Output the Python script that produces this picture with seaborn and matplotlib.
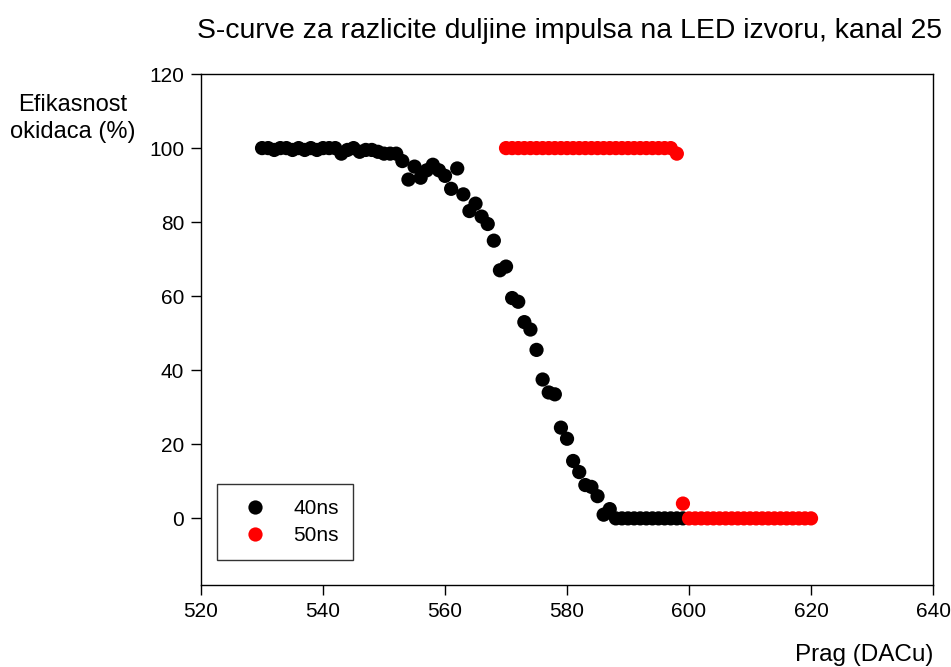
import numpy as np
import pandas as pd
import matplotlib
matplotlib.use("Agg")
import matplotlib.pyplot as plt
import seaborn as sns

# Threshold scan (DAC units) and trigger efficiency (%) for the 40 ns pulse
prag_40 = list(range(530, 600))
eff_40 = [100, 100, 99.5, 100, 100, 99.5, 100, 99.5, 100, 99.5,
          100, 100, 100, 98.5, 99.5, 100, 99, 99.5, 99.5, 99,
          98.5, 98.5, 98.5, 96.5, 91.5, 95, 92, 94, 95.5, 94,
          92.5, 89, 94.5, 87.5, 83, 85, 81.5, 79.5, 75, 67,
          68, 59.5, 58.5, 53, 51, 45.5, 37.5, 34, 33.5, 24.5,
          21.5, 15.5, 12.5, 9, 8.5, 6, 1, 2.5, 0, 0,
          0, 0, 0, 0, 0, 0, 0, 0, 0, 0]

# Same scan for the 50 ns pulse
prag_50 = list(range(570, 621))
eff_50 = [100] * 28 + [98.5, 4] + [0] * 21

series_names = ["40ns", "50ns"]
series_colors = ["black", "red"]

df = pd.concat([
    pd.DataFrame({"Prag": prag_40, "Efikasnost": eff_40, "Impuls": series_names[0]}),
    pd.DataFrame({"Prag": prag_50, "Efikasnost": eff_50, "Impuls": series_names[1]}),
], ignore_index=True)

sns.set_theme(style="ticks")
plt.rcParams["font.family"] = ["Liberation Sans", "DejaVu Sans"]
plt.rcParams["text.color"] = "black"

fig = plt.figure(figsize=(9.51, 6.67), dpi=100)
ax = fig.add_axes([0.2114, 0.1229, 0.7697, 0.7661])

sns.scatterplot(data=df, x="Prag", y="Efikasnost", hue="Impuls",
                palette=dict(zip(series_names, series_colors)),
                s=105, linewidth=0, alpha=1, ax=ax)

ax.set_xlim(520, 640)
ax.set_ylim(-18, 120)
ax.set_xticks(np.arange(520, 641, 20))
ax.set_yticks(np.arange(0, 121, 20))
ax.tick_params(axis="both", direction="out", length=7, width=1,
               labelsize=15, colors="black", pad=5)
for sp in ax.spines.values():
    sp.set_visible(True)
    sp.set_color("black")
    sp.set_linewidth(1)

ax.set_xlabel("")
ax.set_ylabel("")
fig.text(0.981, 0.001, "Prag (DACu)", ha="right", va="bottom", fontsize=17.5,
         color="black")
fig.text(0.076, 0.822, "Efikasnost\nokidaca (%)", ha="center", va="center",
         fontsize=17, linespacing=1.3, color="black")
fig.text(0.599, 0.953, "S-curve za razlicite duljine impulsa na LED izvoru, kanal 25",
         ha="center", va="center", fontsize=20.4, color="black")

handles, labels = ax.get_legend_handles_labels()
leg = ax.legend(handles, labels, loc="lower left",
                bbox_to_anchor=(0.022, 0.049), borderaxespad=0,
                fontsize=15, frameon=True, fancybox=False, shadow=False,
                borderpad=0.7, handletextpad=0.75, labelspacing=0.4,
                markerscale=1.0, handlelength=2.2)
leg.get_frame().set_edgecolor("black")
leg.get_frame().set_linewidth(1)
for t in leg.get_texts():
    t.set_color("black")

fig.savefig("out.png", dpi=100)
